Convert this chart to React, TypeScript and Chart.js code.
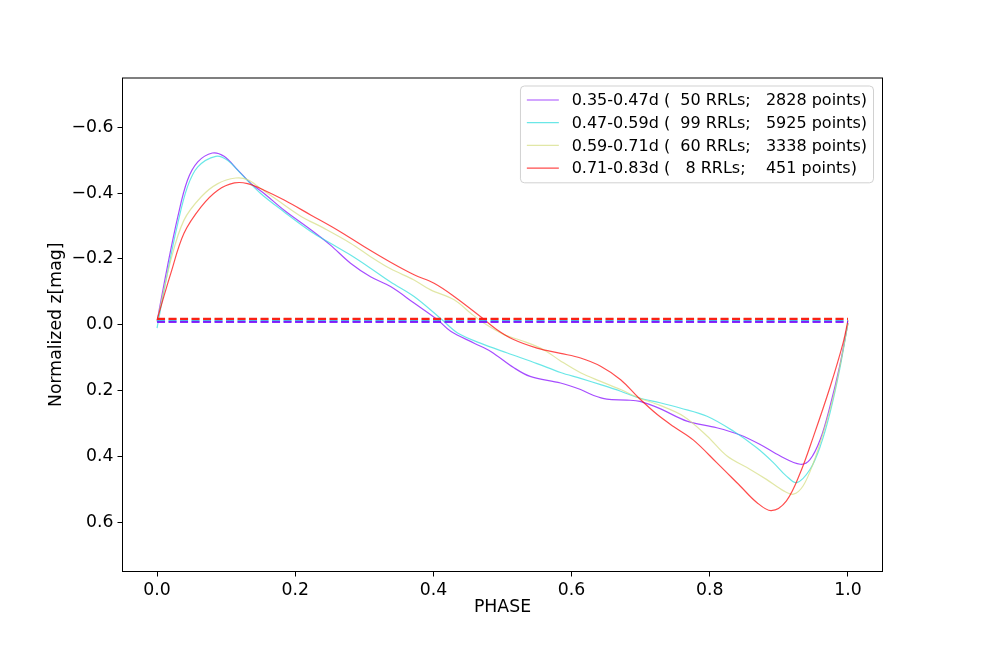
import React, { useEffect, useRef } from "react";
import { Chart, registerables } from "chart.js";

Chart.register(...registerables);

// ---- data ----
const seriesLabels = [
  "0.35-0.47d (  50 RRLs;   2828 points)",
  "0.47-0.59d (  99 RRLs;   5925 points)",
  "0.59-0.71d (  60 RRLs;   3338 points)",
  "0.71-0.83d (   8 RRLs;    451 points)",
];

const purplePhase = [0.0, 0.015, 0.03, 0.044, 0.059, 0.08, 0.097, 0.117, 0.136, 0.155, 0.184, 0.223, 0.251, 0.28, 0.309, 0.338, 0.372, 0.406, 0.425, 0.459, 0.483, 0.516, 0.54, 0.584, 0.613, 0.632, 0.651, 0.68, 0.699, 0.728, 0.767, 0.81, 0.844, 0.873, 0.902, 0.931, 0.945, 0.96, 0.974, 0.988, 1.0];
const purpleMag = [-0.01, -0.177, -0.328, -0.439, -0.495, -0.522, -0.512, -0.47, -0.429, -0.399, -0.348, -0.288, -0.242, -0.187, -0.146, -0.116, -0.066, -0.015, 0.02, 0.056, 0.081, 0.13, 0.157, 0.177, 0.197, 0.215, 0.226, 0.229, 0.233, 0.255, 0.293, 0.313, 0.335, 0.364, 0.399, 0.424, 0.41, 0.348, 0.248, 0.126, -0.005];

const cyanPhase = [0.0, 0.015, 0.03, 0.044, 0.059, 0.085, 0.102, 0.121, 0.15, 0.184, 0.223, 0.251, 0.28, 0.309, 0.338, 0.372, 0.41, 0.435, 0.468, 0.507, 0.55, 0.584, 0.613, 0.642, 0.671, 0.697, 0.728, 0.757, 0.796, 0.834, 0.868, 0.892, 0.911, 0.926, 0.945, 0.96, 0.974, 0.988, 1.0];
const cyanMag = [0.01, -0.157, -0.308, -0.419, -0.48, -0.512, -0.5, -0.46, -0.399, -0.343, -0.283, -0.248, -0.212, -0.172, -0.13, -0.086, -0.02, 0.025, 0.056, 0.086, 0.118, 0.145, 0.163, 0.182, 0.202, 0.222, 0.237, 0.253, 0.278, 0.323, 0.374, 0.419, 0.46, 0.48, 0.44, 0.369, 0.268, 0.136, -0.005];

const yellowPhase = [0.0, 0.02, 0.039, 0.064, 0.088, 0.114, 0.131, 0.15, 0.174, 0.208, 0.242, 0.28, 0.309, 0.338, 0.372, 0.396, 0.43, 0.454, 0.473, 0.502, 0.526, 0.559, 0.584, 0.613, 0.642, 0.671, 0.697, 0.728, 0.762, 0.796, 0.825, 0.858, 0.882, 0.907, 0.921, 0.935, 0.95, 0.964, 0.979, 0.993, 1.0];
const yellowMag = [-0.01, -0.197, -0.318, -0.389, -0.429, -0.446, -0.441, -0.414, -0.379, -0.33, -0.293, -0.248, -0.207, -0.17, -0.136, -0.106, -0.076, -0.035, -0.005, 0.03, 0.047, 0.075, 0.11, 0.146, 0.172, 0.197, 0.222, 0.245, 0.278, 0.338, 0.399, 0.439, 0.47, 0.505, 0.515, 0.49, 0.42, 0.33, 0.217, 0.076, -0.005];

const redPhase = [0.0, 0.02, 0.039, 0.064, 0.088, 0.112, 0.131, 0.155, 0.184, 0.223, 0.261, 0.3, 0.338, 0.372, 0.401, 0.43, 0.468, 0.492, 0.516, 0.55, 0.584, 0.613, 0.642, 0.671, 0.697, 0.724, 0.748, 0.776, 0.81, 0.844, 0.868, 0.889, 0.911, 0.931, 0.95, 0.974, 0.993, 1.0];
const redMag = [-0.015, -0.157, -0.278, -0.359, -0.409, -0.431, -0.429, -0.409, -0.379, -0.333, -0.288, -0.237, -0.19, -0.152, -0.126, -0.086, -0.025, 0.015, 0.045, 0.071, 0.087, 0.101, 0.126, 0.167, 0.222, 0.273, 0.31, 0.35, 0.419, 0.49, 0.54, 0.565, 0.535, 0.45, 0.34, 0.19, 0.055, -0.013];

const meanLevels = [-0.009, -0.011, -0.017, -0.018];
const meanPhaseRange = [0.0, 1.0];

const seriesColors = ["rgba(128,0,255,0.7)", "rgba(43,221,221,0.7)", "rgba(212,221,128,0.7)", "rgba(255,0,0,0.7)"];
const meanColors = ["rgba(128,0,255,0.85)", "rgba(43,221,221,0.85)", "rgba(212,221,128,0.85)", "rgba(255,0,0,0.85)"];
// drawing priority of the mean (dashed) lines: lower = drawn later (on top)
const meanOrder = [2, 3, 4, 1];

const xTicks = [0.0, 0.2, 0.4, 0.6, 0.8, 1.0];
const yTicks = [-0.6, -0.4, -0.2, 0.0, 0.2, 0.4, 0.6];
const xRange = [-0.05, 1.05];
const yRange = [-0.75, 0.75];

const FONT = "'DejaVu Sans', sans-serif";
const FS = 17.3;
const LEGEND_FS = 16;

const phases = [purplePhase, cyanPhase, yellowPhase, redPhase];
const mags = [purpleMag, cyanMag, yellowMag, redMag];

const fmt = (v: number) => Number(v).toFixed(1).replace("-", "\u2212");

const framePlugin = {
  id: "frame",
  afterDraw(chart: any) {
    const { ctx, chartArea } = chart;
    ctx.save();
    ctx.strokeStyle = "#000";
    ctx.lineWidth = 1;
    ctx.strokeRect(chartArea.left, chartArea.top, chartArea.right - chartArea.left, chartArea.bottom - chartArea.top);
    ctx.restore();
  },
};

const legendPlugin = {
  id: "boxLegend",
  afterDatasetsDraw(chart: any) {
    const { ctx, chartArea } = chart;
    ctx.save();
    ctx.font = `${LEGEND_FS}px ${FONT}`;
    const textW = Math.max(...seriesLabels.map((l) => ctx.measureText(l).width));
    const pad = 6.4;
    const handleLen = 32;
    const handleGap = 12.8;
    const rowH = 22.7;
    const boxW = pad + handleLen + handleGap + textW + pad;
    const boxH = rowH * seriesLabels.length + 6;
    const right = chartArea.right - 9;
    const left = right - boxW;
    const top = chartArea.top + 8;
    ctx.beginPath();
    (ctx as any).roundRect(left, top, boxW, boxH, 4);
    ctx.fillStyle = "rgba(255,255,255,0.8)";
    ctx.fill();
    ctx.strokeStyle = "rgba(204,204,204,0.9)";
    ctx.lineWidth = 1;
    ctx.stroke();
    seriesLabels.forEach((label, i) => {
      const cy = top + 14 + i * rowH;
      ctx.beginPath();
      ctx.strokeStyle = seriesColors[i];
      ctx.lineWidth = 1.2;
      ctx.moveTo(left + pad, cy);
      ctx.lineTo(left + pad + handleLen, cy);
      ctx.stroke();
      ctx.fillStyle = "#000";
      ctx.textBaseline = "middle";
      ctx.textAlign = "left";
      ctx.fillText(label, left + pad + handleLen + handleGap, cy + 1);
    });
    ctx.restore();
  },
};

export default function App() {
  const canvasRef = useRef<HTMLCanvasElement | null>(null);

  useEffect(() => {
    if (!canvasRef.current) return;
    const datasets: any[] = [];
    const n = seriesLabels.length;
    for (let i = 0; i < n; i++) {
      datasets.push({
        label: seriesLabels[i],
        data: phases[i].map((x, k) => ({ x, y: mags[i][k] })),
        showLine: true,
        borderColor: seriesColors[i],
        backgroundColor: seriesColors[i],
        borderWidth: 1.2,
        pointRadius: 0,
        tension: 0.35,
        order: 100 - i,
      });
    }
    for (let i = 0; i < n; i++) {
      datasets.push({
        label: "mean " + seriesLabels[i],
        data: meanPhaseRange.map((x) => ({ x, y: meanLevels[i] })),
        showLine: true,
        borderColor: meanColors[i],
        borderWidth: 2.2,
        borderDash: [8, 3.5],
        pointRadius: 0,
        order: meanOrder[i],
      });
    }

    const tickFont = { family: FONT, size: FS };
    const chart = new Chart(canvasRef.current, {
      type: "scatter",
      data: { datasets },
      options: {
        animation: false,
        responsive: false,
        devicePixelRatio: 1,
        layout: { padding: { left: 0, right: 98.5, top: 78, bottom: 0 } },
        plugins: { legend: { display: false }, tooltip: { enabled: false } },
        scales: {
          x: {
            type: "linear",
            min: xRange[0],
            max: xRange[1],
            afterBuildTicks: (s: any) => {
              s.ticks = xTicks.map((v) => ({ value: v }));
            },
            afterFit: (s: any) => {
              s.height = 82.5;
            },
            ticks: { color: "#000", font: tickFont, padding: 4, maxRotation: 0, callback: (v: any) => fmt(v) },
            grid: { drawOnChartArea: false, drawTicks: true, tickLength: 5, color: "#000", lineWidth: 1 },
            border: { display: true, color: "#000", width: 1 },
            title: { display: true, text: "PHASE", color: "#000", font: tickFont, padding: { top: 0, bottom: 36 } },
          },
          y: {
            type: "linear",
            reverse: true,
            min: yRange[0],
            max: yRange[1],
            afterBuildTicks: (s: any) => {
              s.ticks = yTicks.map((v) => ({ value: v }));
            },
            afterFit: (s: any) => {
              s.width = 122.5;
            },
            ticks: { color: "#000", font: tickFont, padding: 4, callback: (v: any) => fmt(v) },
            grid: { drawOnChartArea: false, drawTicks: true, tickLength: 5, color: "#000", lineWidth: 1 },
            border: { display: true, color: "#000", width: 1 },
            title: { display: true, text: "Normalized z[mag]", color: "#000", font: tickFont, padding: { top: 46, bottom: 0 } },
          },
        },
      } as any,
      plugins: [framePlugin, legendPlugin],
    });
    return () => chart.destroy();
  }, []);

  return (
    <div style={{ position: "fixed", left: 0, top: 0, width: 981, height: 654, background: "#fff" }}>
      <canvas ref={canvasRef} width={981} height={654} style={{ display: "block", width: 981, height: 654 }} />
    </div>
  );
}
